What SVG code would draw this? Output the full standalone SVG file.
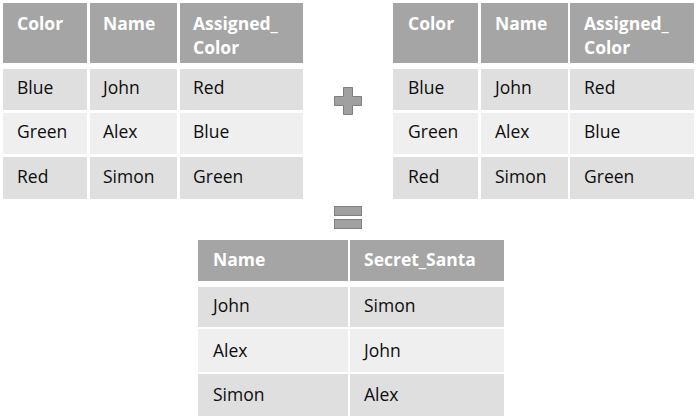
<svg xmlns="http://www.w3.org/2000/svg" width="700" height="420" viewBox="0 0 700 420">
<style>
.h{fill:#a5a5a5}
.d{fill:#dfdfdf}
.l{fill:#efefef}
text{font-family:"Open Sans","Liberation Sans",sans-serif;font-size:17.5px}
.ht{fill:#ffffff;font-weight:bold}
.bt{fill:#0d0d0d}
.sym{fill:#a0a0a0;stroke:#7f7f7f;stroke-width:1}
</style>
<rect width="700" height="420" fill="#ffffff"/>
<g id="table-left">
<rect class="h" x="3" y="3" width="84" height="60"/>
<rect class="h" x="90" y="3" width="87" height="60"/>
<rect class="h" x="180" y="3" width="123" height="60"/>
<rect class="d" x="3" y="69" width="84" height="41"/>
<rect class="d" x="90" y="69" width="87" height="41"/>
<rect class="d" x="180" y="69" width="123" height="41"/>
<rect class="l" x="3" y="113" width="84" height="41"/>
<rect class="l" x="90" y="113" width="87" height="41"/>
<rect class="l" x="180" y="113" width="123" height="41"/>
<rect class="d" x="3" y="157" width="84" height="42"/>
<rect class="d" x="90" y="157" width="87" height="42"/>
<rect class="d" x="180" y="157" width="123" height="42"/>
<text class="ht" x="17" y="30">Color</text>
<text class="ht" x="103" y="30">Name</text>
<text class="ht" x="193" y="30">Assigned_</text>
<text class="ht" x="193" y="54">Color</text>
<text class="bt" x="17" y="94">Blue</text>
<text class="bt" x="103" y="94">John</text>
<text class="bt" x="193" y="94">Red</text>
<text class="bt" x="17" y="138">Green</text>
<text class="bt" x="103" y="138">Alex</text>
<text class="bt" x="193" y="138">Blue</text>
<text class="bt" x="17" y="183">Red</text>
<text class="bt" x="103" y="183">Simon</text>
<text class="bt" x="193" y="183">Green</text>
</g>
<g id="table-right">
<rect class="h" x="393" y="3" width="85" height="60"/>
<rect class="h" x="481" y="3" width="87" height="60"/>
<rect class="h" x="570" y="3" width="124" height="60"/>
<rect class="d" x="393" y="69" width="85" height="41"/>
<rect class="d" x="481" y="69" width="87" height="41"/>
<rect class="d" x="570" y="69" width="124" height="41"/>
<rect class="l" x="393" y="113" width="85" height="41"/>
<rect class="l" x="481" y="113" width="87" height="41"/>
<rect class="l" x="570" y="113" width="124" height="41"/>
<rect class="d" x="393" y="157" width="85" height="42"/>
<rect class="d" x="481" y="157" width="87" height="42"/>
<rect class="d" x="570" y="157" width="124" height="42"/>
<text class="ht" x="408" y="30">Color</text>
<text class="ht" x="495" y="30">Name</text>
<text class="ht" x="584" y="30">Assigned_</text>
<text class="ht" x="584" y="54">Color</text>
<text class="bt" x="408" y="94">Blue</text>
<text class="bt" x="495" y="94">John</text>
<text class="bt" x="584" y="94">Red</text>
<text class="bt" x="408" y="138">Green</text>
<text class="bt" x="495" y="138">Alex</text>
<text class="bt" x="584" y="138">Blue</text>
<text class="bt" x="408" y="183">Red</text>
<text class="bt" x="495" y="183">Simon</text>
<text class="bt" x="584" y="183">Green</text>
</g>
<g id="plus">
<path class="sym" d="M343.5,87.5 H352.5 V96.5 H361.5 V105.5 H352.5 V114.5 H343.5 V105.5 H334.5 V96.5 H343.5 Z"/>
</g>
<g id="equals">
<rect class="sym" x="334.5" y="206.5" width="27" height="9"/>
<rect class="sym" x="334.5" y="219.5" width="27" height="9"/>
</g>
<g id="table-result">
<rect class="h" x="198" y="240" width="150" height="41"/>
<rect class="h" x="350" y="240" width="154" height="41"/>
<rect class="d" x="198" y="287" width="150" height="40"/>
<rect class="d" x="350" y="287" width="154" height="40"/>
<rect class="l" x="198" y="329" width="150" height="43"/>
<rect class="l" x="350" y="329" width="154" height="43"/>
<rect class="d" x="198" y="374" width="150" height="42"/>
<rect class="d" x="350" y="374" width="154" height="42"/>
<text class="ht" x="213" y="266">Name</text>
<text class="ht" x="364" y="266">Secret_Santa</text>
<text class="bt" x="213" y="312">John</text>
<text class="bt" x="364" y="312">Simon</text>
<text class="bt" x="213" y="357">Alex</text>
<text class="bt" x="364" y="357">John</text>
<text class="bt" x="213" y="401">Simon</text>
<text class="bt" x="364" y="401">Alex</text>
</g>
<g id="connectors"/>
</svg>
